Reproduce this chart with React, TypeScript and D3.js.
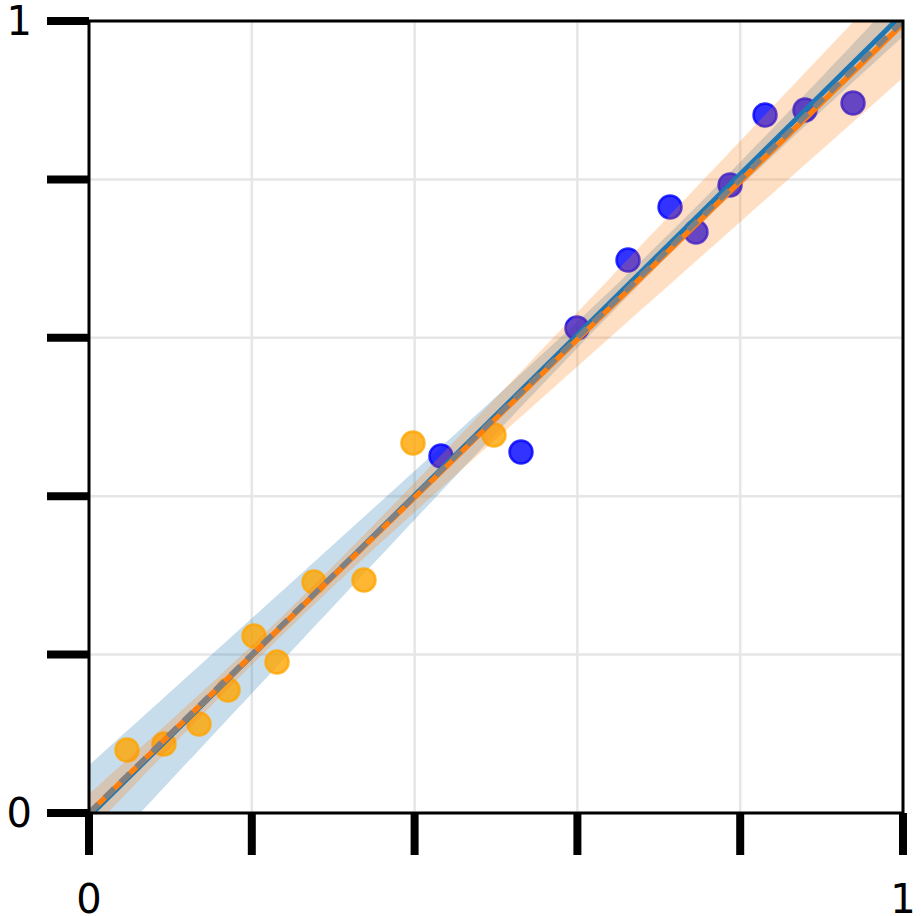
import React from 'react';
import * as d3 from 'd3';

const orangeX = [0.0467, 0.0921, 0.1351, 0.1708, 0.2027, 0.2310, 0.2764, 0.3378, 0.3980, 0.4975];
const orangeY = [0.0795, 0.0871, 0.1124, 0.1553, 0.2235, 0.1907, 0.2917, 0.2942, 0.4672, 0.4773];
const blueX = [0.4324, 0.5307, 0.5995, 0.6622, 0.7138, 0.7457, 0.7875, 0.8305, 0.8796, 0.9386];
const blueY = [0.4508, 0.4558, 0.6124, 0.6982, 0.7652, 0.7336, 0.7929, 0.8813, 0.8876, 0.8965];
const ticks = [0, 0.2, 0.4, 0.6, 0.8, 1];
const tickLabels = ['0', '', '', '', '', '1'];

function fit(xs: number[], ys: number[]) {
  const n = xs.length;
  const mx = d3.mean(xs)!;
  const my = d3.mean(ys)!;
  let sxx = 0, sxy = 0;
  xs.forEach((x, i) => { sxx += (x - mx) ** 2; sxy += (x - mx) * (ys[i] - my); });
  const slope = sxy / sxx;
  const intercept = my - slope * mx;
  let sse = 0;
  xs.forEach((x, i) => { sse += (ys[i] - (intercept + slope * x)) ** 2; });
  const s = Math.sqrt(sse / (n - 2));
  const f = (x: number) => intercept + slope * x;
  const se = (x: number) => s * Math.sqrt(1 / n + (x - mx) ** 2 / sxx);
  return { f, se };
}

const L = 89, R = 903, T = 21, B = 813;

export default function App() {
  const x = d3.scaleLinear().domain([0, 1]).range([L, R]);
  const y = d3.scaleLinear().domain([0, 1]).range([B, T]);
  const grid = d3.range(0, 1.0001, 0.01);
  const fo = fit(orangeX, orangeY);
  const fb = fit(blueX, blueY);
  const area = (m: { f: (x: number) => number; se: (x: number) => number }) =>
    d3.area<number>().x(d => x(d)).y0(d => y(m.f(d) - m.se(d))).y1(d => y(m.f(d) + m.se(d)))(grid)!;
  const line = (m: { f: (x: number) => number }) =>
    d3.line<number>().x(d => x(d)).y(d => y(m.f(d)))([0, 1])!;
  const font = 'DejaVu Sans, sans-serif';
  return (
    <div style={{ position: 'absolute', left: 0, top: 0 }}>
      <svg width={921} height={916} style={{ display: 'block', background: '#fff' }}>
        <defs>
          <clipPath id="plot"><rect x={L} y={T} width={R - L} height={B - T} /></clipPath>
        </defs>
        {ticks.map((t, i) => (
          <g key={'g' + i}>
            <line x1={x(t)} x2={x(t)} y1={T} y2={B} stroke="#e6e6e6" strokeWidth={2.5} />
            <line x1={L} x2={R} y1={y(t)} y2={y(t)} stroke="#e6e6e6" strokeWidth={2.5} />
          </g>
        ))}
        <g clipPath="url(#plot)">
          <path d={area(fb)} fill="#1f77b4" fillOpacity={0.25} />
          {orangeX.map((v, i) => (
            <circle key={'o' + i} cx={x(v)} cy={y(orangeY[i])} r={11.5} fill="#ffa500" fillOpacity={0.8}
              stroke="#ffa500" strokeOpacity={0.8} strokeWidth={2.5} />
          ))}
          {blueX.map((v, i) => (
            <circle key={'b' + i} cx={x(v)} cy={y(blueY[i])} r={11.5} fill="#0000ff" fillOpacity={0.8}
              stroke="#0000ff" strokeOpacity={0.8} strokeWidth={2.5} />
          ))}
          <path d={area(fo)} fill="#ff7f0e" fillOpacity={0.25} />
          <path d={line(fb)} stroke="#1f77b4" strokeWidth={5} fill="none" />
          <path d={line(fo)} stroke="#ff7f0e" strokeWidth={5.5} fill="none" />
          <path d={d3.line<number>().x(d => x(d)).y(d => y(d))([0, 1])!} stroke="#808080" strokeWidth={5.5}
            strokeDasharray="13,9" fill="none" />
        </g>
        <rect x={L} y={T} width={R - L} height={B - T} fill="none" stroke="#000" strokeWidth={3} />
        {ticks.map((t, i) => (
          <g key={'t' + i}>
            <line x1={L - 42} x2={L} y1={y(t)} y2={y(t)} stroke="#000" strokeWidth={8} />
            <line x1={x(t)} x2={x(t)} y1={B} y2={B + 42} stroke="#000" strokeWidth={8} />
            {tickLabels[i] && (
              <text x={L - 57} y={y(t)} dy="0.36em" textAnchor="end" fontFamily={font} fontSize={40}>{tickLabels[i]}</text>
            )}
            {tickLabels[i] && (
              <text x={x(t)} y={B + 86} dy="0.36em" textAnchor="middle" fontFamily={font} fontSize={40}>{tickLabels[i]}</text>
            )}
          </g>
        ))}
      </svg>
    </div>
  );
}
